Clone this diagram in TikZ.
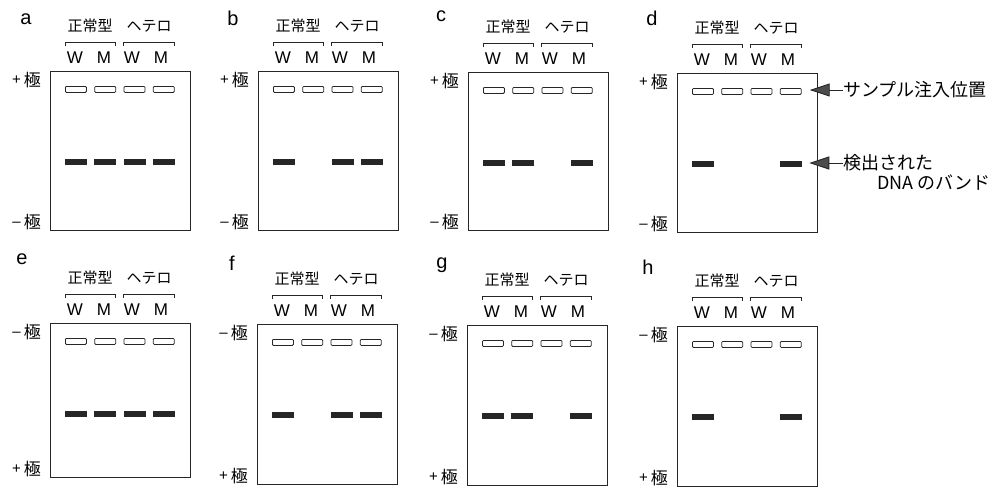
\documentclass[tikz,border=0pt]{standalone}
\usepackage{fontspec}
\setmainfont{Liberation Sans}
\newfontfamily\jp{Noto Sans CJK JP}
\usetikzlibrary{arrows.meta}
\tikzset{
  gelline/.style={draw=black!85, line width=0.9pt},
  well/.style={draw=black!85, line width=0.8pt, rounded corners=1pt, minimum width=21pt, minimum height=6pt, inner sep=0pt, anchor=north west},
  bandbox/.style={fill=black!85, draw=black!85, line width=0.4pt, minimum width=21pt, minimum height=5pt, inner sep=0pt, anchor=north west},
  lanelbl/.style={font=\fontsize{17pt}{17pt}\selectfont, inner sep=0pt},
  grplbl/.style={font=\jp\fontsize{15pt}{15pt}\selectfont, inner sep=0pt},
  polelbl/.style={font=\jp\fontsize{17pt}{17pt}\selectfont, inner sep=0pt, anchor=east},
  panelletter/.style={font=\fontsize{20pt}{20pt}\selectfont, inner sep=0pt, anchor=base},
  note/.style={font=\jp\fontsize{18pt}{18pt}\selectfont, inner sep=0pt, anchor=west},
  brk/.style={draw=black!85, line width=0.8pt},
  notearrow/.style={draw=black!85, line width=0.9pt, -{Triangle[length=20pt,width=13pt,fill=black!70]}, shorten >=8pt},
}
\newcommand{\plusp}{\raisebox{1.5pt}{\rmfamily\fontsize{15pt}{15pt}\selectfont +}\hspace{3pt}極}
\newcommand{\minusp}{\raisebox{2pt}{\rmfamily\fontsize{15pt}{15pt}\selectfont \textendash}\hspace{3pt}極}
% #1 id, #2 L, #3 T, #4 B, #5 top pole, #6 bottom pole, #7 band lanes
\newcommand{\gelpanel}[7]{%
  \draw[gelline] (#2,#3) rectangle (#2+140,#4);
  \foreach \i in {1,2,3,4} {
    \node[well] (#1-w\i) at ({#2+15+(\i-1)*29.3},#3+15) {};
  }
  \foreach \i in {#7} {
    \node[bandbox] (#1-b\i) at ({#2+15+(\i-1)*29.3},#3+88) {};
  }
  \node[lanelbl] (#1-l1) at (#2+25,#3-13) {W};
  \node[lanelbl] (#1-l2) at (#2+54,#3-13) {M};
  \node[lanelbl] (#1-l3) at (#2+82,#3-13) {W};
  \node[lanelbl] (#1-l4) at (#2+111,#3-13) {M};
  \draw[brk] (#2+15,#3-25) -- (#2+15,#3-29) -- (#2+65,#3-29) -- (#2+65,#3-25);
  \draw[brk] (#2+73,#3-25) -- (#2+73,#3-29) -- (#2+124,#3-29) -- (#2+124,#3-25);
  \node[grplbl] (#1-g1) at (#2+40,#3-45) {正常型};
  \node[grplbl] (#1-g2) at (#2+99,#3-45) {ヘテロ};
  \node[polelbl] (#1-pt) at (#2-9,#3+9) {#5};
  \node[polelbl] (#1-pb) at (#2-9,#4-8) {#6};
}
\begin{document}
\begin{tikzpicture}[x=1pt,y=-1pt]
\useasboundingbox (0,0) rectangle (1000,488);
% top row
\node[panelletter] (la) at (26,24) {a};
\node[panelletter] (lb) at (233,25) {b};
\node[panelletter] (lc) at (441,21) {c};
\node[panelletter] (ld) at (652,25) {d};
\gelpanel{a}{50}{71}{230}{\plusp}{\minusp}{1,2,3,4}
\gelpanel{b}{258}{71}{230}{\plusp}{\minusp}{1,3,4}
\gelpanel{c}{468}{72}{230}{\plusp}{\minusp}{1,2,4}
\gelpanel{d}{677}{73}{232}{\plusp}{\minusp}{1,4}
% bottom row
\node[panelletter] (le) at (22,264) {e};
\node[panelletter] (lf) at (232,270) {f};
\node[panelletter] (lg) at (442,268) {g};
\node[panelletter] (lh) at (648,274) {h};
\gelpanel{e}{50}{323}{477}{\minusp}{\plusp}{1,2,3,4}
\gelpanel{f}{257}{324}{484}{\minusp}{\plusp}{1,3,4}
\gelpanel{g}{467}{325}{485}{\minusp}{\plusp}{1,2,4}
\gelpanel{h}{677}{326}{486}{\minusp}{\plusp}{1,4}
% annotations
\node[note] (n1) at (843,90) {サンプル注入位置};
\node[note] (n2) at (843,163) {検出された};
\node[note] (n3) at (877,183) {DNA のバンド};
\draw[notearrow] (n1.west) -- (n1.west -| d-w4.east);
\draw[notearrow] (n2.west) -- (n2.west -| d-b4.east);
\end{tikzpicture}
\end{document}
